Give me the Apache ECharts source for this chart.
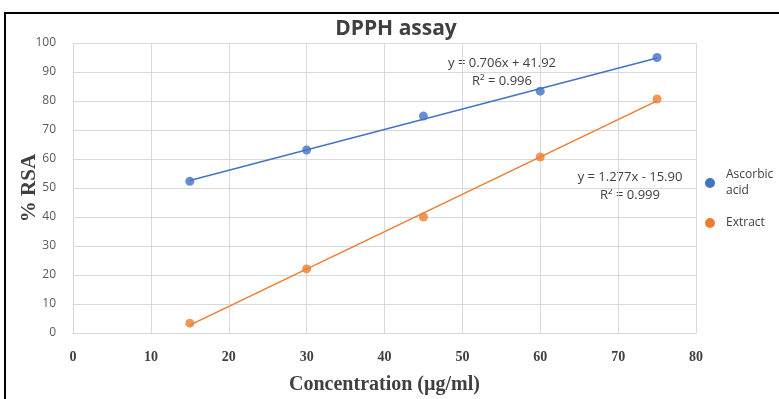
<!DOCTYPE html>
<html><head><meta charset="utf-8">
<script src="https://cdn.jsdelivr.net/npm/echarts@6/dist/echarts.min.js"></script>
<style>html,body{margin:0;padding:0;background:#fff}#c{width:779px;height:399px}</style>
</head><body><div id="c"></div>
<script>
const concentrations = [15, 30, 45, 60, 75];
const ascorbicValues = [52.3, 63.1, 74.8, 83.4, 95.0];
const extractValues = [3.4, 22.1, 40.0, 60.7, 80.7];
const seriesNames = ['Ascorbic acid', 'Extract'];
const xTicks = [0, 10, 20, 30, 40, 50, 60, 70, 80];
const yTicks = [0, 10, 20, 30, 40, 50, 60, 70, 80, 90, 100];
const eqAscorbic = ['y = 0.706x + 41.92', 'R² = 0.996'];
const eqExtract = ['y = 1.277x - 15.90', 'R² = 0.999'];

function fit(xs, ys) {
  const n = xs.length;
  const mx = xs.reduce((a, b) => a + b, 0) / n;
  const my = ys.reduce((a, b) => a + b, 0) / n;
  let sxy = 0, sxx = 0;
  for (let i = 0; i < n; i++) { sxy += (xs[i] - mx) * (ys[i] - my); sxx += (xs[i] - mx) ** 2; }
  const m = sxy / sxx, b = my - m * mx;
  const x0 = xs[0], x1 = xs[n - 1];
  return [[x0, m * x0 + b], [x1, m * x1 + b]];
}
const pts = (ys) => concentrations.map((x, i) => [x, ys[i]]);

const blue = '#4472C4', orange = '#ED7D31';
const eqFont = '13px "Open Sans"';
const chart = echarts.init(document.getElementById('c'));
chart.setOption({
  animation: false,
  title: { text: 'DPPH assay', left: 391, top: 14, textAlign: 'center',
    textStyle: { fontFamily: 'Open Sans', fontWeight: 'bold', fontSize: 21, color: '#404040' } },
  grid: { left: 73, right: 83, top: 43, bottom: 66, containLabel: false, outerBoundsMode: 'none' },
  legend: {
    orient: 'vertical', left: 700, top: 162, itemGap: 16, itemWidth: 10, itemHeight: 10,
    icon: 'circle', data: seriesNames,
    formatter: (n) => n === 'Ascorbic acid' ? 'Ascorbic\nacid' : n,
    textStyle: { fontFamily: 'Open Sans', fontSize: 12, color: '#404040', lineHeight: 16, padding: [0, 0, 0, 6] }
  },
  xAxis: {
    type: 'value', min: xTicks[0], max: xTicks[xTicks.length - 1], interval: 10,
    name: 'Concentration (µg/ml)', nameLocation: 'middle', nameGap: 42,
    nameTextStyle: { fontFamily: 'Liberation Serif', fontWeight: 'bold', fontSize: 20, color: '#404040' },
    axisLine: { lineStyle: { color: '#d9d9d9' } }, axisTick: { show: false },
    axisLabel: { margin: 17, fontFamily: 'Liberation Serif', fontWeight: 'bold', fontSize: 14, color: '#404040' },
    splitLine: { lineStyle: { color: '#d9d9d9' } }
  },
  yAxis: {
    type: 'value', min: yTicks[0], max: yTicks[yTicks.length - 1], interval: 10,
    name: '% RSA', nameLocation: 'middle', nameGap: 33, nameMoveOverlap: false,
    nameTextStyle: { fontFamily: 'Liberation Serif', fontWeight: 'bold', fontSize: 21, color: '#404040' },
    axisLine: { show: false }, axisTick: { show: false },
    axisLabel: { margin: 17, fontFamily: 'Open Sans', fontSize: 12, color: '#595959' },
    splitLine: { lineStyle: { color: '#d9d9d9' } }
  },
  series: [
    { name: seriesNames[0], type: 'line', data: fit(concentrations, ascorbicValues), showSymbol: false, silent: true,
      lineStyle: { color: blue, width: 1.5 }, itemStyle: { color: blue }, z: 2 },
    { name: seriesNames[1], type: 'line', data: fit(concentrations, extractValues), showSymbol: false, silent: true,
      lineStyle: { color: orange, width: 1.5 }, itemStyle: { color: orange }, z: 2 },
    { name: seriesNames[0], type: 'scatter', data: pts(ascorbicValues), symbolSize: 9, itemStyle: { color: blue }, z: 3 },
    { name: seriesNames[1], type: 'scatter', data: pts(extractValues), symbolSize: 9, itemStyle: { color: orange }, z: 3 }
  ],
  graphic: [
    { type: 'rect', shape: { x: 5, y: 13, width: 800, height: 400 }, style: { fill: 'none', stroke: '#000', lineWidth: 2 }, z: 10 },
    { type: 'text', x: 502, y: 63, style: { text: eqAscorbic[0], textAlign: 'center', textVerticalAlign: 'middle', font: eqFont, fill: '#404040' } },
    { type: 'text', x: 502, y: 81, style: { text: eqAscorbic[1], textAlign: 'center', textVerticalAlign: 'middle', font: eqFont, fill: '#404040' } },
    { type: 'text', x: 630, y: 177, style: { text: eqExtract[0], textAlign: 'center', textVerticalAlign: 'middle', font: eqFont, fill: '#404040' } },
    { type: 'text', x: 630, y: 195, style: { text: eqExtract[1], textAlign: 'center', textVerticalAlign: 'middle', font: eqFont, fill: '#404040' } }
  ]
});
</script></body></html>
